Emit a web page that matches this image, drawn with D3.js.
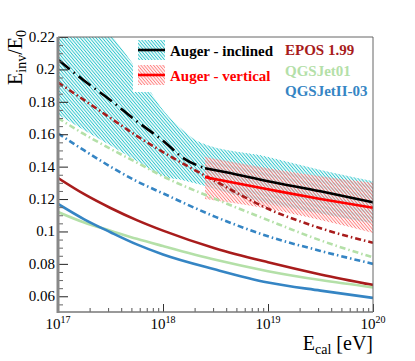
<!DOCTYPE html>
<html>
<head>
<meta charset="utf-8">
<script src="https://cdn.jsdelivr.net/npm/d3@7"></script>
<style>
  body { margin: 0; background: #fff; }
</style>
</head>
<body>
<div id="chart"></div>
<script>
// plot size, the frame follows the ROOT canvas of the original
const width = 415;
const height = 361;
const margin = {left: 58, right: 42, top: 37, bottom: 49};
const serif = "'Liberation Serif', 'DejaVu Serif', serif";

const logE = [17, 17.25, 17.5, 17.75, 18, 18.5, 19, 19.5, 20];

// solid model curves
const eposSolid = [0.133, 0.123, 0.1145, 0.107, 0.1005, 0.0895, 0.081, 0.0735, 0.067];
const qgs01Solid = [0.112, 0.1055, 0.1005, 0.0955, 0.091, 0.0825, 0.0755, 0.070, 0.0655];
const qgs2Solid = [0.117, 0.1075, 0.0995, 0.092, 0.0858, 0.0765, 0.0685, 0.0635, 0.059];

// dash-dotted model curves
const eposDash = [0.192, 0.181, 0.170, 0.159, 0.149, 0.131, 0.114, 0.102, 0.093];
const qgs01Dash = [0.170, 0.160, 0.151, 0.1425, 0.134, 0.120, 0.107, 0.0945, 0.084];
const qgs2Dash = [0.1605, 0.150, 0.140, 0.131, 0.1235, 0.109, 0.097, 0.088, 0.080];

// Auger inclined: extrapolated part (dash-dot) and measured part (solid)
const inclLowE = [17, 17.25, 17.5, 17.75, 18, 18.2, 18.4];
const inclLow = [0.206, 0.193, 0.181, 0.168, 0.156, 0.145, 0.139];
const inclHighE = [18.4, 18.6, 19, 19.5, 20];
const inclHigh = [0.139, 0.1365, 0.131, 0.1248, 0.118];

// Auger vertical
const vertE = [18.4, 19, 19.5, 20];
const vert = [0.1335, 0.126, 0.120, 0.1146];

// uncertainty bands
const inclBandE = [17, 17.5, 17.75, 18, 18.2, 18.35, 19, 19.5, 20];
const inclBandLo = [0.172, 0.153, 0.1435, 0.134, 0.1315, 0.129, 0.117, 0.111, 0.105];
const inclBandHi = [0.262, 0.222, 0.2, 0.175, 0.162, 0.155, 0.146, 0.138, 0.131];
const vertBandLo = [0.120, 0.114, 0.107, 0.099];
const vertBandHi = [0.146, 0.139, 0.134, 0.130];

// axis ticks
const yMajor = [0.06, 0.08, 0.1, 0.12, 0.14, 0.16, 0.18, 0.2, 0.22];
const xDecades = [17, 18, 19, 20];

const colEpos = "#a81c1c";
const colQgs01 = "#b4e0a8";
const colQgs2 = "#3585c4";
const colCyan = "#2fc6cc";
const colPink = "#ff8080";

const svg = d3.select("#chart")
  .append("svg")
  .attr("width", width)
  .attr("height", height)
  .attr("font-family", serif);

const x = d3.scaleLog()
  .domain([1e17, 1e20])
  .range([margin.left, width - margin.right]);

const y = d3.scaleLinear()
  .domain([0.0503, 0.22])
  .range([height - margin.bottom, margin.top]);

const defs = svg.append("defs");

defs.append("clipPath").attr("id", "plotclip")
  .append("rect")
  .attr("x", margin.left)
  .attr("y", margin.top)
  .attr("width", width - margin.left - margin.right)
  .attr("height", height - margin.top - margin.bottom);

// ROOT-like hatch fill
function hatch(id, color) {
  const p = defs.append("pattern")
    .attr("id", id)
    .attr("patternUnits", "userSpaceOnUse")
    .attr("width", 2.4)
    .attr("height", 3)
    .attr("patternTransform", "rotate(-40)");
  p.append("line")
    .attr("x1", 1.2).attr("y1", -1)
    .attr("x2", 1.2).attr("y2", 4)
    .attr("stroke", color)
    .attr("stroke-width", 1);
}
hatch("hatchCyan", colCyan);
hatch("hatchPink", colPink);

const pts = (es, vs) => es.map((e, i) => [e, vs[i]]);

const line = d3.line()
  .x(d => x(Math.pow(10, d[0])))
  .y(d => y(d[1]))
  .curve(d3.curveMonotoneX);

const area = d3.area()
  .x(d => x(Math.pow(10, d[0])))
  .y0(d => y(d[1]))
  .y1(d => y(d[2]))
  .curve(d3.curveMonotoneX);

const plot = svg.append("g").attr("clip-path", "url(#plotclip)");

/*
  Bands
*/
plot.append("path")
  .datum(inclBandE.map((e, i) => [e, inclBandLo[i], inclBandHi[i]]))
  .attr("d", area)
  .attr("fill", "url(#hatchCyan)");

plot.append("path")
  .datum(vertE.map((e, i) => [e, vertBandLo[i], vertBandHi[i]]))
  .attr("d", area)
  .attr("fill", "url(#hatchPink)");

/*
  Curves
*/
const curves = [
  {e: logE, v: eposSolid, color: colEpos, dash: null},
  {e: logE, v: qgs01Solid, color: colQgs01, dash: null},
  {e: logE, v: qgs2Solid, color: colQgs2, dash: null},
  {e: logE, v: qgs01Dash, color: colQgs01, dash: "6,3,1.5,3"},
  {e: logE, v: qgs2Dash, color: colQgs2, dash: "6,3,1.5,3"},
  {e: logE, v: eposDash, color: colEpos, dash: "6,3,1.5,3"},
  {e: inclLowE, v: inclLow, color: "#000", dash: "15,5,1.5,5"},
  {e: inclHighE, v: inclHigh, color: "#000", dash: null},
  {e: vertE, v: vert, color: "#ff0000", dash: null}
];

plot.selectAll(".curve")
  .data(curves)
  .enter()
  .append("path")
    .attr("class", "curve")
    .attr("d", d => line(pts(d.e, d.v)))
    .attr("fill", "none")
    .attr("stroke", d => d.color)
    .attr("stroke-width", 2.6)
    .attr("stroke-dasharray", d => d.dash);

/*
  Legends
*/
svg.append("rect")
  .attr("x", 133).attr("y", margin.top + 1)
  .attr("width", 145).attr("height", 54)
  .attr("fill", "#fff");

const aug = [
  {label: "Auger - inclined", fill: "url(#hatchCyan)", color: "#000", text: "#000"},
  {label: "Auger - vertical", fill: "url(#hatchPink)", color: "#ff0000", text: "#ff0000"}
];
aug.forEach((d, i) => {
  const cy = 50 + i * 25;
  svg.append("rect")
    .attr("x", 138).attr("y", cy - 10)
    .attr("width", 27).attr("height", 20)
    .attr("fill", d.fill);
  svg.append("line")
    .attr("x1", 138).attr("x2", 165)
    .attr("y1", cy).attr("y2", cy)
    .attr("stroke", d.color)
    .attr("stroke-width", 2.6);
  svg.append("text")
    .attr("x", 170).attr("y", cy + 5.5)
    .attr("font-size", "15px")
    .attr("font-weight", "bold")
    .attr("fill", d.text)
    .text(d.label);
});

const models = [
  {label: "EPOS 1.99", color: colEpos},
  {label: "QGSJet01", color: colQgs01},
  {label: "QGSJetII-03", color: colQgs2}
];
svg.selectAll(".mlabel")
  .data(models)
  .enter()
  .append("text")
    .attr("class", "mlabel")
    .attr("x", 285)
    .attr("y", (d, i) => 55 + i * 20.5)
    .attr("font-size", "15px")
    .attr("font-weight", "bold")
    .attr("fill", d => d.color)
    .text(d => d.label);

/*
  Axes
*/
const bottom = height - margin.bottom;
const xMinor = [];
for (let dec = 17; dec < 20; dec++) {
  for (let k = 2; k <= 9; k++) xMinor.push(k * Math.pow(10, dec));
}

svg.append("g")
  .attr("transform", `translate(0,${bottom})`)
  .call(d3.axisBottom(x).tickValues(xMinor).tickSize(-4).tickFormat(""))
  .call(g => g.select(".domain").remove())
  .call(g => g.selectAll("line").attr("stroke", "#555"));

svg.append("g")
  .attr("transform", `translate(0,${bottom})`)
  .call(d3.axisBottom(x).tickValues(xDecades.map(e => Math.pow(10, e))).tickSize(-8).tickFormat(""))
  .call(g => g.select(".domain").remove())
  .call(g => g.selectAll("line").attr("stroke", "#333"));

const yMinor = d3.range(0.055, 0.2201, 0.005).filter(v => !yMajor.some(m => Math.abs(m - v) < 1e-6));

svg.append("g")
  .attr("transform", `translate(${margin.left},0)`)
  .call(d3.axisLeft(y).tickValues(yMinor).tickSize(-5).tickFormat(""))
  .call(g => g.select(".domain").remove())
  .call(g => g.selectAll("line").attr("stroke", "#666"));

svg.append("g")
  .attr("transform", `translate(${margin.left},0)`)
  .call(d3.axisLeft(y).tickValues(yMajor).tickSize(-10).tickFormat(""))
  .call(g => g.select(".domain").remove())
  .call(g => g.selectAll("line").attr("stroke", "#222"));

// frame
svg.append("path")
  .attr("d", `M${margin.left},${margin.top}H${width - margin.right}V${bottom}`)
  .attr("fill", "none")
  .attr("stroke", "#666")
  .attr("stroke-width", 1);
svg.append("line")
  .attr("x1", margin.left).attr("x2", width - margin.right)
  .attr("y1", bottom).attr("y2", bottom)
  .attr("stroke", "#777")
  .attr("stroke-width", 1.5);
svg.append("line")
  .attr("x1", margin.left).attr("x2", margin.left)
  .attr("y1", margin.top).attr("y2", bottom + 1)
  .attr("stroke", "#888")
  .attr("stroke-width", 3);

// tick labels
svg.selectAll(".ylab")
  .data(yMajor)
  .enter()
  .append("text")
    .attr("class", "ylab")
    .attr("x", 55)
    .attr("y", d => y(d) + 5)
    .attr("text-anchor", "end")
    .attr("font-size", "15px")
    .text(d => String(+d.toFixed(2)));

const xl = svg.selectAll(".xlab")
  .data(xDecades)
  .enter()
  .append("text")
    .attr("class", "xlab")
    .attr("x", d => x(Math.pow(10, d)))
    .attr("y", 329)
    .attr("text-anchor", "middle")
    .attr("font-size", "15px");
xl.append("tspan").text("10");
xl.append("tspan").attr("dy", -6).attr("font-size", "10px").text(d => d);

// axis titles
const xt = svg.append("text")
  .attr("x", width - margin.right)
  .attr("y", 350)
  .attr("text-anchor", "end")
  .attr("font-size", "20px");
xt.append("tspan").text("E");
xt.append("tspan").attr("dy", 4).attr("font-size", "14px").text("cal");
xt.append("tspan").attr("dy", -4).text(" [eV]");

const yt = svg.append("text")
  .attr("transform", "translate(22,30) rotate(-90)")
  .attr("text-anchor", "end")
  .attr("font-size", "20px");
yt.append("tspan").text("E");
yt.append("tspan").attr("dy", 4).attr("font-size", "14px").text("inv");
yt.append("tspan").attr("dy", -4).text("/E");
yt.append("tspan").attr("dy", 4).attr("font-size", "14px").text("0");
</script>
</body>
</html>
